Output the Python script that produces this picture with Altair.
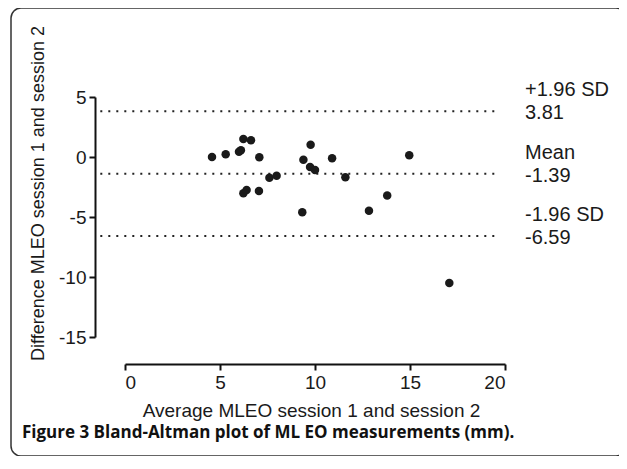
import altair as alt
import pandas as pd

# Data
avg_mleo = [4.58, 5.3, 6.0, 6.1, 6.23, 6.63, 7.07, 7.6, 7.98, 6.23, 6.4, 7.05,
            9.33, 9.39, 9.77, 9.74, 10.0, 10.9, 11.6, 14.96, 13.8, 12.84, 17.07]
diff_mleo = [0.0, 0.22, 0.44, 0.56, 1.5, 1.39, -0.03, -1.72, -1.56, -3.03, -2.75, -2.83,
             -4.6, -0.22, 1.03, -0.83, -1.08, -0.1, -1.69, 0.14, -3.2, -4.47, -10.5]

limit_names = ["+1.96 SD", "Mean", "-1.96 SD"]
limit_values = [3.81, -1.39, -6.59]
limit_labels = ["3.81", "-1.39", "-6.59"]

x_ticks = [0, 5, 10, 15, 20]
y_ticks = [5, 0, -5, -10, -15]

caption = "Figure 3 Bland-Altman plot of ML EO measurements (mm)."

pts = pd.DataFrame({"avg": avg_mleo, "diff": diff_mleo})
lims = pd.DataFrame({"name": limit_names, "value": limit_values, "label": limit_labels})

FONT = "Liberation Sans"

xscale = alt.Scale(domain=[0, 20], nice=False, zero=False)
yscale = alt.Scale(domain=[-15, 5], nice=False, zero=False)

points = alt.Chart(pts).mark_circle(size=72, color="#1a1a1a", opacity=1).encode(
    x=alt.X("avg:Q", scale=xscale,
            axis=alt.Axis(title="Average MLEO session 1 and session 2", values=x_ticks,
                          offset=27, titleX=186, titleY=46, titleAlign="center",
                          titleBaseline="middle", titleFontSize=19,
                          labelExpr="'' + datum.value")),
    y=alt.Y("diff:Q", scale=yscale,
            axis=alt.Axis(title="Difference MLEO session 1 and session 2", values=y_ticks,
                          offset=30, titleX=-57, titleY=96, titleAngle=270,
                          titleAlign="center", titleBaseline="middle", titleFontSize=18,
                          labelExpr="'' + datum.value")),
)

rules = alt.Chart(lims).mark_rule(color="#222222", strokeWidth=2, strokeDash=[2, 6]).encode(
    x=alt.datum(-1.3, scale=xscale),
    x2=alt.datum(19.6),
    y=alt.Y("value:Q", scale=yscale),
)

name_text = alt.Chart(lims).mark_text(align="left", baseline="middle", dy=-21,
                                      font=FONT, fontSize=20, color="#1a1a1a").encode(
    x=alt.value(400), y=alt.Y("value:Q", scale=yscale), text="name:N")

value_text = alt.Chart(lims).mark_text(align="left", baseline="middle", dy=2,
                                       font=FONT, fontSize=20, color="#1a1a1a").encode(
    x=alt.value(400), y=alt.Y("value:Q", scale=yscale), text="label:N")

cap = alt.Chart(pd.DataFrame({"t": [caption]})).mark_text(
    align="left", baseline="middle", font="Open Sans", fontWeight="bold", fontSize=17,
    color="#111111").encode(x=alt.value(-103), y=alt.value(336), text="t:N")

frame = alt.Chart(pd.DataFrame({"f": [1]})).mark_rect(
    fill=None, stroke="#333333", strokeWidth=1.5, cornerRadius=10).encode(
    x=alt.value(-114), x2=alt.value(501), y=alt.value(-89), y2=alt.value(359))

chart = alt.layer(frame, rules, points, name_text, value_text, cap).properties(
    width=380, height=240,
    autosize=alt.AutoSizeParams(type="none"),
    padding={"left": 117, "top": 89, "right": 114, "bottom": 119},
).configure_view(stroke=None).configure_axis(
    grid=False, domainColor="#111111", domainWidth=2, tickColor="#111111", tickWidth=2,
    tickSize=6, labelFont=FONT, labelFontSize=19, labelColor="#1a1a1a", labelPadding=3,
    titleFont=FONT, titleColor="#1a1a1a", titleFontWeight="normal",
)

chart.save("out.html", embed_options={"renderer": "svg", "actions": False})
